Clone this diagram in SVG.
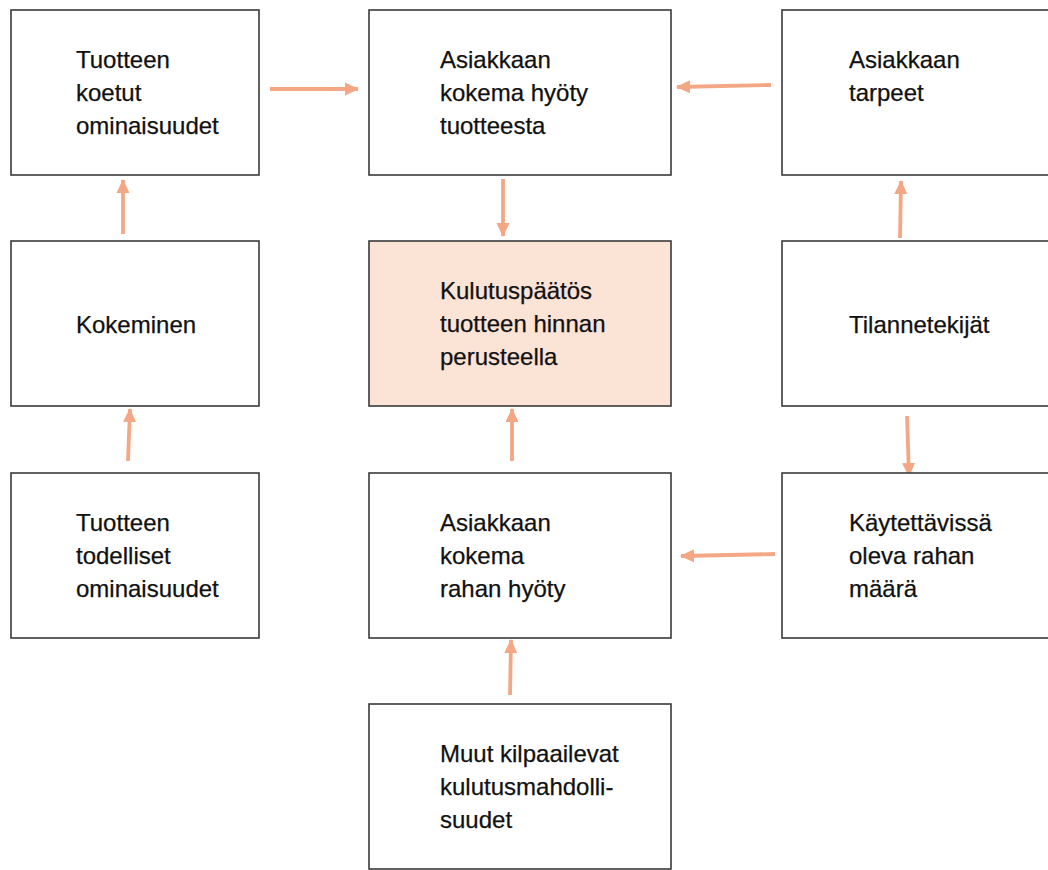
<svg xmlns="http://www.w3.org/2000/svg" width="1048" height="870" viewBox="0 0 1048 870">
<style>
.box{fill:#fff;stroke:#3a3a3a;stroke-width:1.6}
.hl{fill:#fbe3d6}
.t{font-family:"Liberation Sans",Arial,sans-serif;font-size:24px;fill:#111;stroke:#111;stroke-width:0.25}
.c{stroke:#f4a784;stroke-width:3.8;fill:none;marker-end:url(#ah)}
</style>
<defs>
<marker id="ah" markerUnits="userSpaceOnUse" markerWidth="16" markerHeight="14" refX="13" refY="7" orient="auto">
<path d="M0,0.5 L14,7 L0,13.5 Z" fill="#f4a784"/>
</marker>
</defs>
<rect width="1048" height="870" fill="#fff"/>
<g id="connectors">
<line class="c" x1="270" y1="89" x2="358" y2="89"/>
<line class="c" x1="771" y1="85" x2="677" y2="87"/>
<line class="c" x1="503" y1="179" x2="503" y2="236"/>
<line class="c" x1="123" y1="234" x2="123" y2="180"/>
<line class="c" x1="128" y1="461" x2="130" y2="409"/>
<line class="c" x1="900" y1="238" x2="901" y2="181"/>
<line class="c" x1="907" y1="416" x2="909" y2="476"/>
<line class="c" x1="775" y1="554" x2="681" y2="556"/>
<line class="c" x1="512" y1="461" x2="512" y2="409"/>
<line class="c" x1="510" y1="695" x2="511" y2="640"/>
</g>
<g id="n1"><rect class="box" x="11" y="10" width="248" height="165"/>
<text class="t" x="76" y="68">Tuotteen</text><text class="t" x="76" y="101">koetut</text><text class="t" x="76" y="134">ominaisuudet</text></g>
<g id="n2"><rect class="box" x="369" y="10" width="302" height="165"/>
<text class="t" x="440" y="68">Asiakkaan</text><text class="t" x="440" y="101">kokema hyöty</text><text class="t" x="440" y="134">tuotteesta</text></g>
<g id="n3"><rect class="box" x="782" y="10" width="300" height="165"/>
<text class="t" x="849" y="68">Asiakkaan</text><text class="t" x="849" y="101">tarpeet</text></g>
<g id="n4"><rect class="box" x="11" y="241" width="248" height="165"/>
<text class="t" x="76" y="333">Kokeminen</text></g>
<g id="n5"><rect class="box hl" x="369" y="241" width="302" height="165"/>
<text class="t" x="440" y="299">Kulutuspäätös</text><text class="t" x="440" y="332">tuotteen hinnan</text><text class="t" x="440" y="365">perusteella</text></g>
<g id="n6"><rect class="box" x="782" y="241" width="300" height="165"/>
<text class="t" x="849" y="333">Tilannetekijät</text></g>
<g id="n7"><rect class="box" x="11" y="473" width="248" height="165"/>
<text class="t" x="76" y="531">Tuotteen</text><text class="t" x="76" y="564">todelliset</text><text class="t" x="76" y="597">ominaisuudet</text></g>
<g id="n8"><rect class="box" x="369" y="473" width="302" height="165"/>
<text class="t" x="440" y="531">Asiakkaan</text><text class="t" x="440" y="564">kokema</text><text class="t" x="440" y="597">rahan hyöty</text></g>
<g id="n9"><rect class="box" x="782" y="473" width="300" height="165"/>
<text class="t" x="849" y="531">Käytettävissä</text><text class="t" x="849" y="564">oleva rahan</text><text class="t" x="849" y="597">määrä</text></g>
<g id="n10"><rect class="box" x="369" y="704" width="302" height="165"/>
<text class="t" x="440" y="762">Muut kilpaailevat</text><text class="t" x="440" y="795">kulutusmahdolli-</text><text class="t" x="440" y="828">suudet</text></g>
</svg>
